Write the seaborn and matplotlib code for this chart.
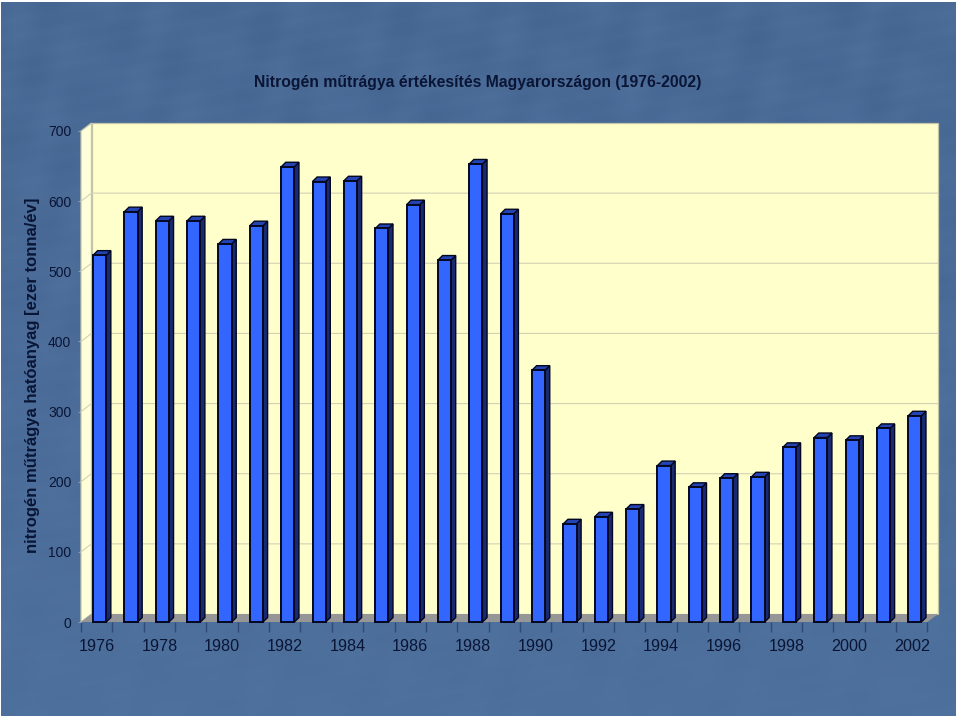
import numpy as np
import pandas as pd
import matplotlib
matplotlib.use('Agg')
import matplotlib.pyplot as plt
from matplotlib.patches import Polygon
import seaborn as sns

years = list(range(1976, 2003))
values = [523, 585, 572, 572, 539, 565, 649, 628, 629, 561, 595, 516, 653, 582,
          359, 140, 150, 161, 223, 192, 205, 207, 249, 263, 259, 276, 294]
yticks = [0, 100, 200, 300, 400, 500, 600, 700]

title = 'Nitrogén műtrágya értékesítés Magyarországon (1976-2002)'
ylabel = 'nitrogén műtrágya hatóanyag [ezer tonna/év]'

sns.set_theme(style='white')
plt.rcParams['font.family'] = ['Liberation Sans', 'DejaVu Sans']

ink = '#0a1535'
W, H = 960, 720

fig = plt.figure(figsize=(9.6, 7.2), dpi=100, facecolor='white')

# slide background, a soft mottled blue
bg = fig.add_axes([1 / W, 4 / H, 954 / W, 714 / H], zorder=0)
yy, xx = np.mgrid[0:1:360j, 0:1:480j]
mottle = (np.sin(xx * 23 + yy * 41) * np.sin(xx * 61 - yy * 17 + 1.3)
          + 0.6 * np.sin(xx * 97 + yy * 131) * np.sin(xx * 37 - yy * 113))
top_c = np.array([0x4a, 0x6a, 0x96])
bot_c = np.array([0x4e, 0x70, 0x9c])
img = top_c[None, None, :] + (bot_c - top_c)[None, None, :] * yy[:, :, None]
img = img + (mottle * (1 - 0.7 * yy) * 3)[:, :, None]
bg.imshow(np.clip(img, 0, 255).astype(np.uint8), aspect='auto', interpolation='bilinear')
bg.axis('off')

ax = fig.add_axes([81 / W, 1 - 622 / H, 846.5 / W, 491 / H], zorder=1)
ax.patch.set_alpha(0)
df = pd.DataFrame({'year': years, 'value': values})
sns.barplot(data=df, x='year', y='value', color='#3366ff', saturation=1, width=0.42,
            edgecolor='#030720', linewidth=1.4, ax=ax, zorder=5)
ax.set_xlim(-0.5, len(years) - 0.5)
ax.set_ylim(0, 700)

# depth of the pseudo 3D box, in data units
dx = 10.5 / 31.35
dy = 8 / 0.7014
xl, xr = ax.get_xlim()

wall = '#ffffcc'
ax.add_patch(Polygon([(xl + dx, dy), (xr + dx, dy), (xr + dx, 700 + dy), (xl + dx, 700 + dy)],
                     fc=wall, ec='#c4c4a8', lw=0.9, clip_on=False, zorder=1))
ax.add_patch(Polygon([(xl, 0), (xl + dx, dy), (xl + dx, 700 + dy), (xl, 700)],
                     fc='#ffffd9', ec='#c4c4a8', lw=0.9, clip_on=False, zorder=1))
ax.add_patch(Polygon([(xl, 0), (xl + dx, dy), (xr + dx, dy), (xr, 0)],
                     fc='#969696', ec='none', clip_on=False, zorder=1))
for v in yticks[1:-1]:
    ax.plot([xl, xl + dx, xr + dx], [v, v + dy, v + dy], color='#d2d2b4', lw=0.8,
            clip_on=False, zorder=2)

# side and top faces follow the bars drawn by seaborn
bar_dx = 4.6 / 31.35
bar_dy = 4.5 / 0.7014
for p in list(ax.patches):
    if not isinstance(p, matplotlib.patches.Rectangle):
        continue
    p.set_x(p.get_x() + 0.095)
    p.set_clip_on(False)
    x0, x1, v = p.get_x(), p.get_x() + p.get_width(), p.get_height()
    ax.add_patch(Polygon([(x1, 0), (x1 + bar_dx, bar_dy), (x1 + bar_dx, v + bar_dy), (x1, v)],
                         fc='#1a2a70', ec='#030720', lw=1.0, clip_on=False, zorder=4))
    ax.add_patch(Polygon([(x0, v), (x0 + bar_dx, v + bar_dy), (x1 + bar_dx, v + bar_dy), (x1, v)],
                         fc='#2444b4', ec='#030720', lw=1.0, clip_on=False, zorder=4))

for s in ax.spines.values():
    s.set_visible(False)

ax.set_xlabel('')
ax.set_ylabel('')
ax.set_yticks(yticks)
ax.tick_params(axis='y', left=True, length=2, width=0.8, color='#8a9ab0', pad=5,
               labelsize=10, labelcolor=ink)

ax.set_xticks(np.arange(xl, xr + 0.1, 1))
ax.set_xticklabels([])
ax.tick_params(axis='x', which='major', bottom=True, length=7, width=1, color='#2f4a75')
ax.set_xticks(np.arange(0, len(years), 2), minor=True)
ax.set_xticklabels([str(y) for y in years[::2]], minor=True)
ax.tick_params(axis='x', which='minor', bottom=False, length=0, pad=12, labelsize=11.6,
               labelcolor=ink)

fig.text(478 / W, 1 - 82 / H, title, ha='center', va='center', fontsize=11.3,
         fontweight='bold', color=ink, zorder=3)
fig.text(33 / W, 1 - 375 / H, ylabel, ha='center', va='center', rotation=90, fontsize=12,
         fontweight='bold', color=ink, zorder=3)

fig.savefig('out.png', dpi=100, facecolor='white')
